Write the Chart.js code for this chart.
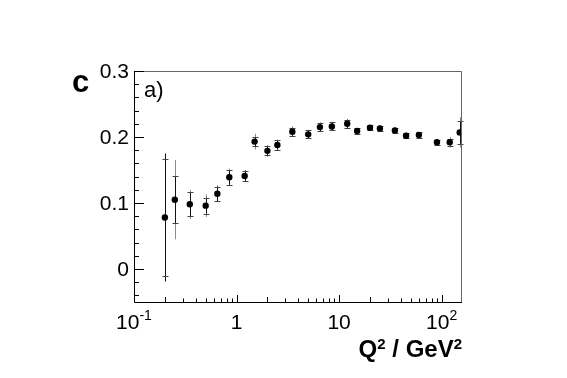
<!DOCTYPE html>
<html>
<head>
<meta charset="utf-8">
<script src="https://cdn.jsdelivr.net/npm/chart.js"></script>
<style>
    html, body { margin: 0; padding: 0; background: #fff; }
    canvas { display: block; }
</style>
</head>
<body>
<canvas id="cChart" width="567" height="378"></canvas>
<script>
// Q^2 bins (GeV^2) and measured c with stat / total errors
const q2 = [0.20, 0.25, 0.35, 0.50, 0.65, 0.85, 1.2, 1.5, 2.0, 2.5, 3.5, 5.0,
            6.5, 8.5, 12, 15, 20, 25, 35, 45, 60, 90, 120, 150];
const cVal = [0.078, 0.105, 0.098, 0.096, 0.114, 0.139, 0.141, 0.193, 0.179, 0.188, 0.208, 0.204,
              0.215, 0.216, 0.220, 0.209, 0.214, 0.213, 0.210, 0.202, 0.203, 0.192, 0.192, 0.207];
const statErr = [0.088, 0.036, 0.018, 0.012, 0.011, 0.011, 0.008, 0.007, 0.007, 0.007, 0.006, 0.006,
                 0.006, 0.006, 0.006, 0.004, 0.004, 0.004, 0.004, 0.004, 0.004, 0.004, 0.005, 0.017];
const totErr = [0.097, 0.060, 0.022, 0.017, 0.013, 0.013, 0.009, 0.012, 0.009, 0.008, 0.008, 0.007,
                0.0075, 0.007, 0.0075, 0.0045, 0.0045, 0.0045, 0.0045, 0.0045, 0.0045, 0.005, 0.008, 0.023];

const xTickValues = [0.1, 1, 10, 100];
const xTickBase = ['10', '1', '10', '10'];
const xTickExp = ['-1', '', '', '2'];
const yTickValues = [0, 0.1, 0.2, 0.3];
const yTickLabels = ['0', '0.1', '0.2', '0.3'];

const FONT = '"Liberation Sans", Arial, Helvetica, sans-serif';

// error bars: grey = total, black with caps = statistical
const errorBars = {
    id: 'errorBars',
    beforeDatasetsDraw(chart) {
        const { ctx, scales: { x, y } } = chart;
        ctx.save();
        q2.forEach((q, i) => {
            const px = Math.round(x.getPixelForValue(q)) + 0.5;
            const yTop = y.getPixelForValue(cVal[i] + totErr[i]);
            const yBot = y.getPixelForValue(cVal[i] - totErr[i]);
            ctx.strokeStyle = i === 0 ? '#111' : '#8a8a8a';
            ctx.lineWidth = 1;
            ctx.beginPath();
            ctx.moveTo(px, yTop);
            ctx.lineTo(px, yBot);
            ctx.stroke();

            const sTop = y.getPixelForValue(cVal[i] + statErr[i]);
            const sBot = y.getPixelForValue(cVal[i] - statErr[i]);
            ctx.strokeStyle = '#111';
            ctx.beginPath();
            ctx.moveTo(px, sTop);
            ctx.lineTo(px, sBot);
            ctx.stroke();
            ctx.strokeStyle = '#444';
            ctx.beginPath();
            ctx.moveTo(px - 3, Math.round(sTop) + 0.5);
            ctx.lineTo(px + 3, Math.round(sTop) + 0.5);
            ctx.moveTo(px - 3, Math.round(sBot) + 0.5);
            ctx.lineTo(px + 3, Math.round(sBot) + 0.5);
            ctx.stroke();
        });
        ctx.restore();
    }
};

// ROOT-like frame, inward ticks, labels
const rootAxes = {
    id: 'rootAxes',
    afterDraw(chart) {
        const { ctx, chartArea: a, scales: { x, y } } = chart;
        ctx.save();

        // frame
        ctx.strokeStyle = '#000';
        ctx.lineWidth = 1;
        ctx.beginPath();
        ctx.moveTo(a.left + 0.5, a.top);
        ctx.lineTo(a.left + 0.5, a.bottom + 0.5);
        ctx.lineTo(a.right, a.bottom + 0.5);
        ctx.stroke();
        ctx.strokeStyle = '#666';
        ctx.beginPath();
        ctx.moveTo(a.left, a.top + 0.5);
        ctx.lineTo(a.right - 0.5, a.top + 0.5);
        ctx.lineTo(a.right - 0.5, a.bottom);
        ctx.stroke();

        // y ticks
        ctx.strokeStyle = '#000';
        ctx.beginPath();
        for (let k = -2; k <= 15; k++) {
            const v = k * 0.02;
            const py = Math.round(y.getPixelForValue(v)) + 0.5;
            const major = k % 5 === 0;
            ctx.moveTo(a.left, py);
            ctx.lineTo(a.left + (major ? 10 : 5), py);
        }
        // x ticks (log)
        for (let d = -1; d <= 2; d++) {
            for (let m = 1; m <= 9; m++) {
                const v = m * Math.pow(10, d);
                if (v > x.max) break;
                const px = Math.round(x.getPixelForValue(v)) + 0.5;
                const len = m === 1 ? 7 : (m === 2 ? 5 : 3.5);
                ctx.moveTo(px, a.bottom);
                ctx.lineTo(px, a.bottom - len);
            }
        }
        ctx.stroke();

        ctx.fillStyle = '#000';
        // y labels
        ctx.font = '21px ' + FONT;
        ctx.textAlign = 'right';
        ctx.textBaseline = 'middle';
        yTickValues.forEach((v, i) => {
            ctx.fillText(yTickLabels[i], a.left - 5, y.getPixelForValue(v) + 1);
        });

        // x labels with superscripts
        ctx.textAlign = 'left';
        ctx.textBaseline = 'alphabetic';
        xTickValues.forEach((v, i) => {
            ctx.font = '21px ' + FONT;
            const wb = ctx.measureText(xTickBase[i]).width;
            ctx.font = '14px ' + FONT;
            const we = xTickExp[i] ? ctx.measureText(xTickExp[i]).width : 0;
            let x0 = x.getPixelForValue(v) - (wb + we) / 2;
            ctx.font = '21px ' + FONT;
            ctx.fillText(xTickBase[i], x0, 329);
            if (xTickExp[i]) {
                ctx.font = '14px ' + FONT;
                ctx.fillText(xTickExp[i], x0 + wb, 320);
            }
        });

        // axis title Q^2 / GeV^2, right aligned to frame
        const parts = [['Q', 24, 0], ['2', 15, -8], [' / GeV', 24, 0], ['2', 15, -8]];
        let total = 0;
        parts.forEach(p => { ctx.font = 'bold ' + p[1] + 'px ' + FONT; total += ctx.measureText(p[0]).width; });
        let tx = a.right - total;
        parts.forEach(p => {
            ctx.font = 'bold ' + p[1] + 'px ' + FONT;
            ctx.fillText(p[0], tx, 357 + p[2]);
            tx += ctx.measureText(p[0]).width;
        });

        // y title "c" and panel label
        ctx.font = 'bold 31px ' + FONT;
        ctx.fillText('c', 72, 92);
        ctx.font = '22px ' + FONT;
        ctx.fillText('a)', 144, 97);

        ctx.restore();
    }
};

const ctx = document.getElementById('cChart').getContext('2d');
new Chart(ctx, {
    type: 'scatter',
    data: {
        datasets: [{
            data: q2.map((q, i) => ({ x: q, y: cVal[i] })),
            backgroundColor: '#000',
            borderColor: '#000',
            pointRadius: 3.2,
            pointBorderWidth: 0
        }]
    },
    options: {
        responsive: false,
        animation: false,
        devicePixelRatio: 1,
        layout: { padding: { top: 71, right: 105, left: 0, bottom: 0 } },
        scales: {
            x: {
                type: 'logarithmic',
                min: 0.1,
                max: 158,
                ticks: { display: false },
                grid: { display: false },
                border: { display: false },
                afterFit: s => { s.height = 76; }
            },
            y: {
                min: -0.05,
                max: 0.3,
                ticks: { display: false },
                grid: { display: false },
                border: { display: false },
                afterFit: s => { s.width = 134; }
            }
        },
        plugins: {
            legend: { display: false },
            tooltip: { enabled: false }
        }
    },
    plugins: [errorBars, rootAxes]
});
</script>
</body>
</html>
